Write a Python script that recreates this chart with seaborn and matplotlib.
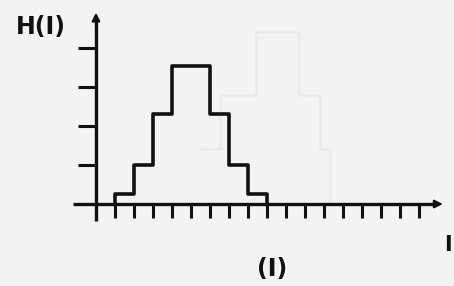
import numpy as np
import pandas as pd
import matplotlib
matplotlib.use("Agg")
import matplotlib.pyplot as plt
import seaborn as sns

# step histogram H(I): bin edges (in tick units) and bar heights
edges = [1, 1, 2, 3, 4, 6, 7, 8, 9]
heights = [0, 0.25, 1.0, 2.3, 3.55, 2.3, 1.0, 0.25, 0]

# faint show-through from the back of the page
ghost_edges = [5.5, 6.5, 8.4, 10.7, 11.8, 12.3]
ghost_heights = [1.4, 2.8, 4.4, 2.8, 1.4, 0]

x_ticks = list(range(1, 18))
y_ticks = [1, 2, 3, 4]

bg = "#f3f3f3"
ink = "#111111"

sns.set_style("white")
fig = plt.figure(figsize=(4.54, 2.86), dpi=100, facecolor=bg)
ax = fig.add_axes([0, 0, 1, 1], facecolor=bg)

# pixel mapping: x_px = 96 + 19*u, y_px = 204 - 39*v
ax.set_xlim(-96 / 19, (454 - 96) / 19)
ax.set_ylim(-82 / 39, 204 / 39)
ax.axis("off")

df_ghost = pd.DataFrame({"I": ghost_edges, "H": ghost_heights})
sns.lineplot(data=df_ghost, x="I", y="H", sort=False, estimator=None,
             drawstyle="steps-post", color="#eaeaea", linewidth=1.8, ax=ax)

df = pd.DataFrame({"I": edges, "H": heights})
sns.lineplot(data=df, x="I", y="H", sort=False, estimator=None,
             drawstyle="steps-post", color=ink, linewidth=2.6, ax=ax)

# axes with arrows
ax.plot([-1.2, 18.0], [0, 0], color=ink, lw=2.4, solid_capstyle="butt")
ax.plot([0, 0], [-0.43, 4.7], color=ink, lw=2.4, solid_capstyle="butt")
ax.annotate("", xy=(18.4, 0), xytext=(17.4, 0),
            arrowprops=dict(arrowstyle="-|>", color=ink, lw=1.5,
                            mutation_scale=12))
ax.annotate("", xy=(0, 4.98), xytext=(0, 4.4),
            arrowprops=dict(arrowstyle="-|>", color=ink, lw=1.5,
                            mutation_scale=12))

# tick marks
ax.vlines(x_ticks, -0.36, 0.03, color=ink, lw=2.2)
ax.hlines(y_ticks, -0.95, 0, color=ink, lw=2.2)

ax.text(-2.9, 4.55, "H(I)", fontsize=17, fontweight="bold", color=ink,
        ha="center", va="center")
ax.text(9.27, -1.66, "(I)", fontsize=17, fontweight="bold", color=ink,
        ha="center", va="center")
ax.text(18.5, -1.05, "I", fontsize=15, fontweight="bold", color=ink,
        ha="center", va="center")

plt.savefig("out.png", dpi=100, facecolor=bg)
